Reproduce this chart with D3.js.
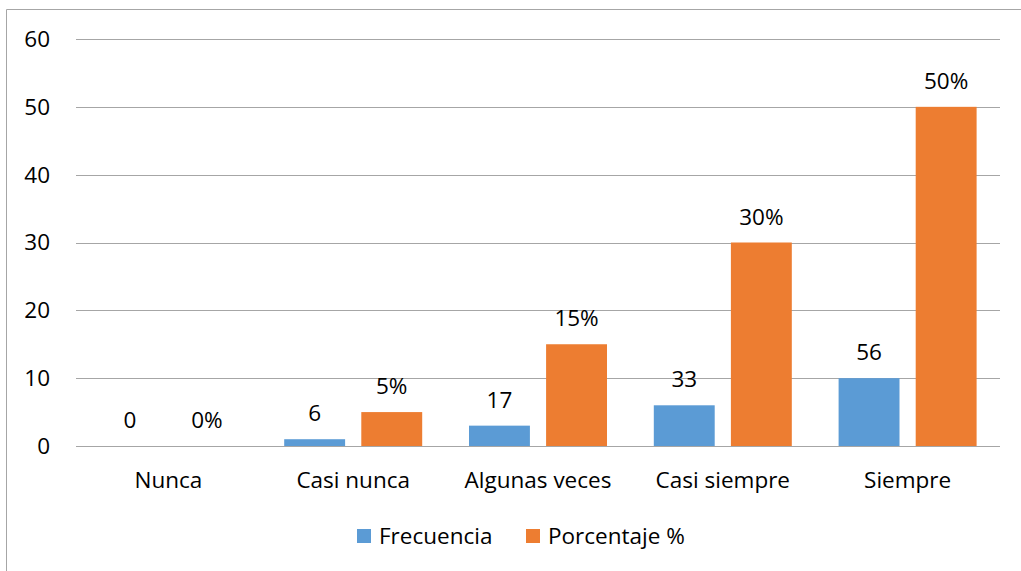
<!DOCTYPE html>
<html><head><meta charset="utf-8">
<script src="https://cdn.jsdelivr.net/npm/d3@7"></script>
<style>body{margin:0;background:#fff;} svg{display:block;font-family:"Open Sans","Noto Sans",sans-serif;}</style>
</head><body><svg id="c" width="1021" height="571"></svg>
<script>
const categories = ["Nunca","Casi nunca","Algunas veces","Casi siempre","Siempre"];
const frecuenciaValues = [0,1,3,6,10];
const frecuenciaLabels = ["0","6","17","33","56"];
const porcentajeValues = [0,5,15,30,50];
const porcentajeLabels = ["0%","5%","15%","30%","50%"];
const seriesNames = ["Frecuencia","Porcentaje %"];
const yTicks = [0,10,20,30,40,50,60];
const colors = ["#5b9bd5","#ed7d31"];
const FS = 22.5;

const svg = d3.select("#c");
svg.append("path").attr("d","M6.5,571 L6.5,9.5 L1021,9.5").attr("fill","none").attr("stroke","#a6a6a6").attr("stroke-width",1);

const x0 = d3.scaleBand().domain(categories).range([76,1000]).paddingInner(0).paddingOuter(0);
const y = d3.scaleLinear().domain([0,60]).range([446,39]);
const x1 = d3.scaleBand().domain([0,1]).range([0,138]).paddingInner(0.21).paddingOuter(0);

const grid = svg.append("g");
yTicks.forEach(t=>{
  grid.append("line").attr("x1",76).attr("x2",1000).attr("y1",Math.round(y(t))+0.5).attr("y2",Math.round(y(t))+0.5)
    .attr("stroke","#a6a6a6").attr("stroke-width",1);
  grid.append("text").attr("x",50).attr("y",y(t)).attr("dy","0.35em").attr("text-anchor","end")
    .attr("font-size",FS).attr("fill","#000").text(t);
});

const series = [
  {vals:frecuenciaValues, labels:frecuenciaLabels},
  {vals:porcentajeValues, labels:porcentajeLabels}
];
categories.forEach((c,i)=>{
  const gx = x0(c) + (x0.bandwidth()-138)/2;
  series.forEach((s,k)=>{
    const bx = gx + x1(k);
    const v = s.vals[i];
    if(v>0){
      svg.append("rect").attr("x",bx).attr("y",y(v)).attr("width",x1.bandwidth()).attr("height",y(0)-y(v)).attr("fill",colors[k]);
    }
    svg.append("text").attr("x",bx+x1.bandwidth()/2).attr("y",y(v)-18).attr("text-anchor","middle")
      .attr("font-size",FS).attr("fill","#000").text(s.labels[i]);
  });
  svg.append("text").attr("x",x0(c)+x0.bandwidth()/2).attr("y",488).attr("text-anchor","middle")
    .attr("font-size",FS).attr("fill","#000").text(c);
});

const legend = svg.append("g");
const legX = [357,526];
seriesNames.forEach((n,k)=>{
  legend.append("rect").attr("x",legX[k]).attr("y",529).attr("width",14).attr("height",14).attr("fill",colors[k]);
  legend.append("text").attr("x",legX[k]+22).attr("y",536).attr("dy","0.35em").attr("font-size",FS).attr("fill","#000").text(n);
});
</script></body></html>
